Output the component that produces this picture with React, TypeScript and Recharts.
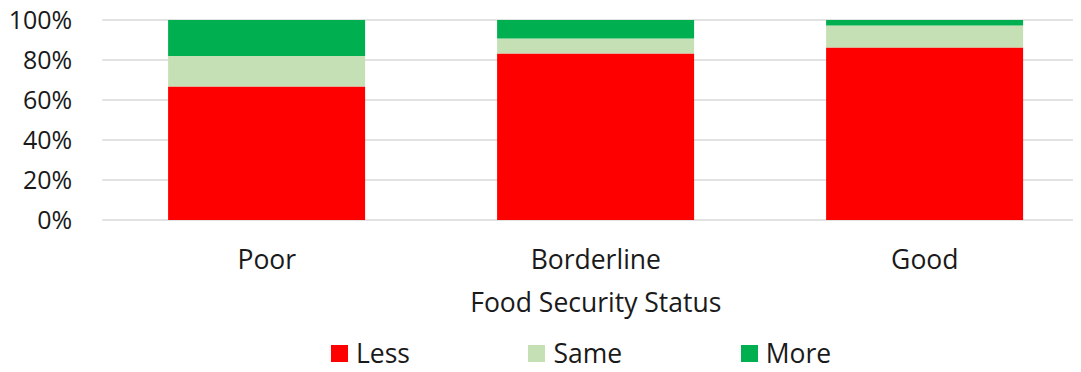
import React from 'react'
import { BarChart, Bar, XAxis, YAxis, CartesianGrid, Legend } from 'recharts'

const categories = ['Poor', 'Borderline', 'Good']
const lessValues = [66.7, 83.3, 86.2]
const sameValues = [15.3, 7.5, 11.0]
const moreValues = [18.0, 9.2, 2.8]
const yTicks = [0, 20, 40, 60, 80, 100]

const SERIES = [
  { key: 'less', name: 'Less', color: '#FF0000' },
  { key: 'same', name: 'Same', color: '#C5E0B4' },
  { key: 'more', name: 'More', color: '#00B050' },
]

const FONT = '"Open Sans", "Noto Sans", sans-serif'
const TEXT = '#1a1a1a'

const data = categories.map((c, i) => ({
  name: c,
  less: lessValues[i],
  same: sameValues[i],
  more: moreValues[i],
}))

function LegendRow() {
  return (
    <div
      style={{
        display: 'flex',
        justifyContent: 'flex-start',
        alignItems: 'center',
        height: 30,
        paddingLeft: 331,
        fontFamily: FONT,
        fontSize: 26.5,
        color: TEXT,
      }}
    >
      {SERIES.map((s) => (
        <div key={s.key} style={{ display: 'flex', alignItems: 'center', marginRight: 118.5 }}>
          <span style={{ width: 17, height: 17, background: s.color, display: 'inline-block', marginRight: 8 }} />
          <span>{s.name}</span>
        </div>
      ))}
    </div>
  )
}

export default function App() {
  return (
    <div style={{ margin: -8, width: 1081, height: 372, overflow: 'hidden', background: '#fff' }}>
      <BarChart
        width={1100}
        height={372}
        data={data}
        margin={{ top: 20, right: 10.7, bottom: 0, left: 0 }}
        barCategoryGap="20%"
      >
        <CartesianGrid vertical={false} stroke="#d9d9d9" strokeWidth={1.5} />
        <XAxis
          dataKey="name"
          axisLine={false}
          tickLine={false}
          tickSize={0}
          tickMargin={30}
          height={122}
          tick={{ fill: TEXT, fontSize: 26.5, fontFamily: FONT }}
          label={{
            value: 'Food Security Status',
            position: 'insideBottom',
            offset: 30,
            fill: TEXT,
            fontSize: 26.5,
            fontFamily: FONT,
          }}
        />
        <YAxis
          domain={[0, 100]}
          ticks={yTicks}
          axisLine={false}
          tickLine={false}
          tickSize={0}
          tickMargin={30}
          width={102.3}
          tickFormatter={(v: number) => `${v}%`}
          tick={{ fill: TEXT, fontSize: 25, fontFamily: FONT }}
        />
        <Legend
          verticalAlign="bottom"
          content={() => <LegendRow />}
          wrapperStyle={{ top: 338, left: 0, width: 1081 }}
        />
        {SERIES.map((s) => (
          <Bar key={s.key} dataKey={s.key} name={s.name} stackId="a" fill={s.color} isAnimationActive={false} />
        ))}
      </BarChart>
    </div>
  )
}
